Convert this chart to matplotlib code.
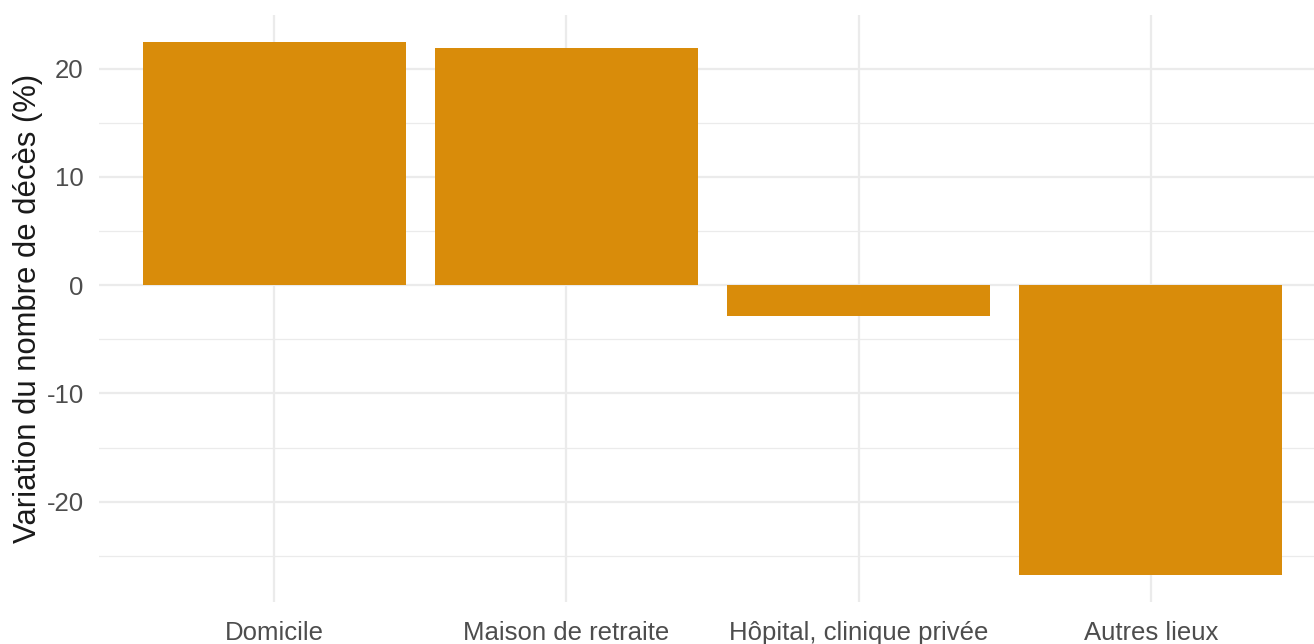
import numpy as np
import matplotlib.pyplot as plt
from matplotlib.ticker import MultipleLocator

# lieux de décès et variation (%)
lieux = ['Domicile', 'Maison de retraite', 'Hôpital, clinique privée', 'Autres lieux']
variation = [22.5, 21.9, -2.85, -26.8]

plt.rcParams['font.family'] = ['Liberation Sans', 'DejaVu Sans']
plt.rcParams['axes.unicode_minus'] = False

fig = plt.figure(figsize=(13.14, 6.44), dpi=100)
ax = fig.add_axes([99 / 1314, 42 / 644, 1227 / 1314, 587 / 644])

x = np.arange(1, len(lieux) + 1)
ax.bar(x, variation, width=0.9, color='#D98C0A', zorder=2)

ymin, ymax = min(variation), max(variation)
pad = (ymax - ymin) * 0.05
ax.set_ylim(ymin - pad, ymax + pad)
ax.set_xlim(0.4, len(lieux) + 0.6)

ax.set_xticks(x)
ax.set_xticklabels(lieux)
ax.yaxis.set_major_locator(MultipleLocator(10))
ax.yaxis.set_minor_locator(MultipleLocator(5))

ax.grid(which='major', color='#EBEBEB', linewidth=1.6, zorder=0)
ax.grid(which='minor', axis='y', color='#EBEBEB', linewidth=0.9, zorder=0)
ax.set_axisbelow(True)
for s in ax.spines.values():
    s.set_visible(False)
ax.tick_params(which='both', length=0)
ax.tick_params(axis='y', labelsize=18.5, labelcolor='#4D4D4D', pad=11)
ax.tick_params(axis='x', labelsize=18.5, labelcolor='#4D4D4D', pad=14)

ax.set_ylabel('Variation du nombre de décès (%)', fontsize=22.3, color='#1A1A1A', va='center')
ax.yaxis.set_label_coords(-0.0575, 0.5)

fig.savefig('out.png', dpi=100)
